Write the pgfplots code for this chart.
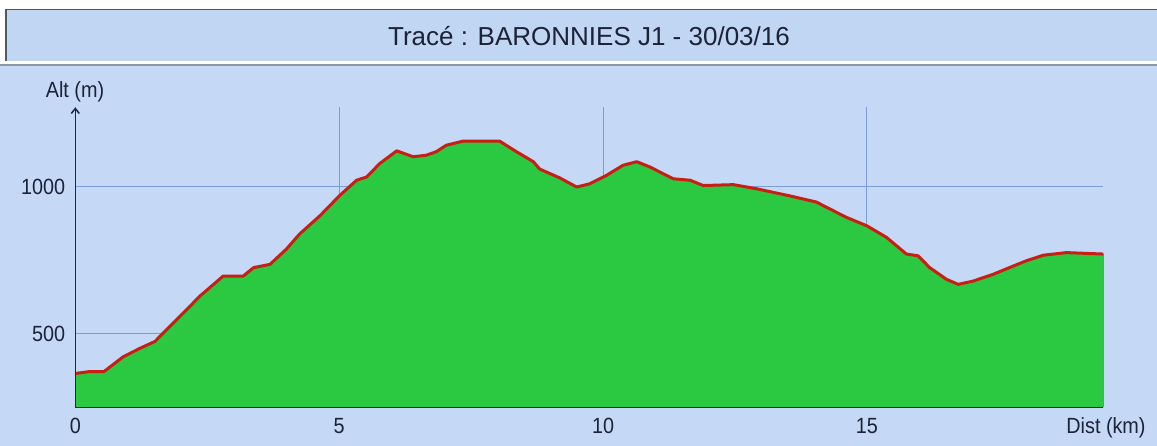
\documentclass[border=0pt]{standalone}
\usepackage{pgfplots}
\pgfplotsset{compat=1.18}
\usepackage{pgfplotstable}
\usetikzlibrary{arrows.meta}
\usepackage{fontspec}
\setmainfont{Liberation Sans}
\newfontfamily\labfont{Liberation Sans}[FakeStretch=0.9]
\definecolor{bg}{RGB}{197,216,245}
\definecolor{titlebg}{RGB}{193,214,243}
\definecolor{boxdark}{RGB}{80,88,100}
\definecolor{boxgray}{RGB}{140,150,165}
\definecolor{fillgreen}{RGB}{43,200,66}
\definecolor{linered}{RGB}{200,30,20}
\definecolor{gridblue}{RGB}{124,156,216}
\definecolor{axisdark}{RGB}{30,40,60}
\definecolor{txt}{RGB}{28,34,56}
\pgfplotstableread{
x y
0 365
0.25 371
0.54 371
0.91 422
1.23 451
1.51 474
1.79 525
2.11 582
2.36 628
2.62 668
2.80 696
3.18 696
3.38 725
3.69 736
4.00 788
4.25 839
4.64 902
5.01 970
5.33 1022
5.52 1033
5.77 1079
6.09 1122
6.40 1102
6.65 1107
6.84 1119
7.03 1141
7.35 1155
7.73 1155
8.04 1155
8.36 1119
8.68 1085
8.80 1060
9.18 1030
9.50 999
9.75 1010
10.07 1039
10.38 1073
10.64 1085
10.89 1067
11.33 1027
11.65 1022
11.90 1004
12.47 1007
12.91 993
13.35 976
13.51 970
14.04 948
14.61 896
15.00 867
15.37 828
15.75 771
15.97 765
16.19 725
16.51 685
16.73 668
17.01 679
17.39 702
17.77 730
18.02 748
18.34 767
18.78 776
19.48 771
}\profile
\begin{document}
\begin{tikzpicture}
\useasboundingbox (0pt,0pt) rectangle (1157pt,446pt);
\fill[bg] (0pt,0pt) rectangle (1157pt,446pt);
\fill[white] (0pt,436pt) rectangle (1157pt,446pt);
\fill[white] (0pt,382pt) rectangle (5pt,446pt);
\fill[titlebg] (5pt,384pt) rectangle (1157pt,436pt);
\draw[boxdark, line width=1.5pt] (5.75pt,384pt) -- (5.75pt,436.25pt) -- (1157pt,436.25pt);
\fill[white] (0pt,382pt) rectangle (1157pt,384.5pt);
\fill[boxgray] (0pt,380pt) rectangle (1157pt,382pt);
\node[font=\fontsize{26}{30}\selectfont, text=txt] at (589pt,410pt) {Tracé : BARONNIES J1 - 30/03/16};
\begin{axis}[name=ax, at={(75.3pt,38.7pt)}, anchor=south west,
  scale only axis, width=1028pt, height=300pt,
  xmin=0, xmax=19.48, ymin=250, ymax=1270,
  axis line style={draw=none},
  xtick={0,5,10,15}, ytick={500,1000},
  major tick length=0pt,
  /pgf/number format/assume math mode=true,
  /pgf/number format/1000 sep={},
  grid=major, major grid style={draw=gridblue, line width=1pt},
  tick label style={font=\labfont\fontsize{22}{24}\selectfont, text=txt},
  xticklabel style={anchor=north, inner sep=0pt, yshift=-11pt},
  yticklabel style={anchor=east, inner sep=0pt, xshift=-10pt},
]
\addplot[fill=fillgreen, draw=none] table[x=x,y=y]{\profile} \closedcycle;
\addplot[draw=axisdark, line width=1.5pt] coordinates {(19.48,250) (19.48,771)};
\addplot[draw=linered, line width=3pt, line join=round] table[x=x,y=y]{\profile};
\end{axis}
\draw[axisdark, line width=1.5pt] (ax.south west) -- (ax.south east);
\draw[axisdark, line width=1.5pt, -{Straight Barb[length=5pt,width=8pt]}] (ax.south west) -- (ax.north west);
\node[font=\labfont\fontsize{22}{24}\selectfont, text=txt, anchor=base] at (75pt,348pt) {Alt (m)};
\node[font=\labfont\fontsize{22}{24}\selectfont, text=txt, anchor=base] at (1106pt,12pt) {Dist (km)};
\end{tikzpicture}
\end{document}
